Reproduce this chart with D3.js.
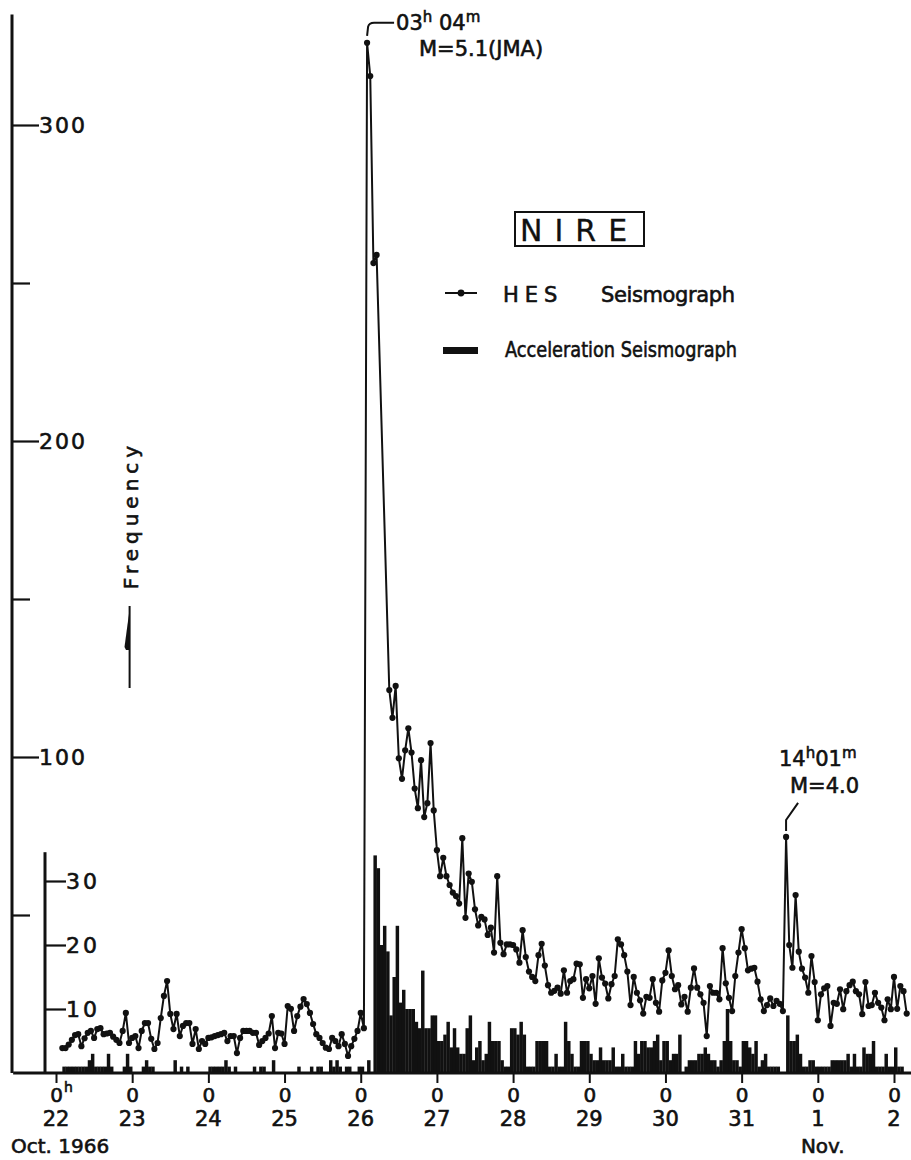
<!DOCTYPE html>
<html>
<head>
<meta charset="utf-8">
<script src="https://cdn.jsdelivr.net/npm/d3@7/dist/d3.min.js"></script>
<style>
  html, body { margin: 0; padding: 0; background: #fff; }
  svg { display: block; }
  text { fill: #111; stroke: #111; stroke-width: 0.6px; font-family: "DejaVu Sans", sans-serif; }
</style>
</head>
<body>
<div id="chart"></div>
<script>
// tick labels under the time axis (one tick per day, 0h)
const dayLabels = ["22", "23", "24", "25", "26", "27", "28", "29", "30", "31", "1", "2"];

// HES seismograph, hourly frequency (null = no point plotted)
const hes22 = [null, null, 7.9, 7.9, 9, 10.5, 12, 12.3, 8.5, 11, 12.7, 13.3, 11.1, 13.9, 14.2, 12.3, 12.5, 12.7, 11.5, 10.5, 9.5, 13.3, 19, 9.5];
const hes23 = [11.1, 11.7, 7.9, 13.3, 15.8, 15.8, 10.8, 7.6, 9.5, 17.4, 24.4, 29.1, 18.7, 13.9, 18.7, 11.7, 14.9, 15.8, 15.8, 9.2, 13.9, 7.6, 10.1, 9.2];
const hes24 = [11.1, 11.3, 11.7, 12, 12.3, 12.7, 10.1, 11.7, 11.7, 6.3, 11.1, 13.3, 13.3, 13.3, 12.7, 12.7, 8.9, 10.1, 11.1, 12.5, 18, 7.9, 12.7, 12.5];
const hes25 = [9.2, 21.2, 20.3, 13.3, 18, 21, 23.4, 21.8, 19, 15.5, 12.3, 11.1, 9.5, 8, 7.6, 11.1, 10.1, 8.5, 12.3, 9.2, 5.4, 8.5, 10.8, 13.3];
const hes26 = [19, 14.2, 326, 315.5, 256.3, 258.9, null, null, null, 121.2, 112.4, 122.5, 99.6, 93.1, 102.1, 109.1, 101.4, 90, 83.8, 99, 81, 85.4, 104.4, 83.1];
const hes27 = [70.5, 62.3, 68.1, 62.3, 59.5, 57.1, 56, 53.6, 74.3, 49.1, 63.1, 60.5, 51.8, 46.7, 49.4, 48.6, 43.7, 46, 38.1, 62.3, 41.2, 37.6, 40.7, 40.7];
const hes28 = [40.5, 39.1, 34.9, 45.2, 36.7, 32.1, 30.4, 29.1, 37.3, 40.9, 34, 27.8, 25.4, 26, 27, 25.1, 32.5, 25.4, 29.1, 29.7, 34.6, 34.4, 23.8, 29.7];
const hes29 = [26.8, 30.7, 21.9, 36.3, 30.2, 28.3, 23.6, 28.1, 30.7, 42.3, 40.7, 37.3, 32.1, 21.5, 30.4, 25.4, 23, 18.8, 24.1, 23.8, 29.7, 22.2, 19.4, 29.3];
const hes30 = [31.7, 38.8, 30.7, 26.5, 27.8, 21.7, 24.1, 19.4, 27, 33.1, 27, 24.9, 22.2, 11.7, 27.5, 25.4, 25.4, 23.3, 39.5, 28.4, 23.8, 19.6, 30.7, 38.1];
const hes31 = [45.5, 39.5, 32.5, 33, 33.3, 28.9, 23.3, 19.6, 21.5, 23.6, 21.2, 22.8, 21.9, 19.6, 74.7, 40.5, 33.3, 56.3, 38.4, 33, 30.2, 25.4, 37, 28.8];
const hes01 = [16.7, 24.9, 26.8, 27.5, 14.9, 22.2, 21.9, 26.5, 20.2, 25.9, 27.8, 28.9, 25.9, 24.9, 18.6, 28.8, 21.2, 21.5, 25.4, 22.2, 20.7, 16.7, 23.3, 20.2];
const hes02 = [30.4, 20.3, 27.5, 25.9, 18.8];

// acceleration seismograph, hourly frequency
const acc22 = [0, 0, 1, 1, 1, 1, 1, 1, 1, 1, 2, 3, 1, 1, 1, 1, 3, 1, 0, 0, 0, 1, 3, 1];
const acc23 = [0, 0, 0, 1, 2, 1, 1, 0, 0, 0, 0, 0, 0, 2, 0, 1, 0, 1, 0, 0, 0, 0, 0, 0];
const acc24 = [1, 1, 1, 1, 1, 2, 1, 0, 1, 0, 0, 0, 0, 0, 1, 0, 1, 1, 0, 0, 2, 0, 0, 0];
const acc25 = [0, 0, 0, 0, 1, 0, 0, 0, 1, 0, 1, 1, 0, 0, 2, 1, 2, 1, 0, 1, 1, 0, 0, 1];
const acc26 = [1, 0, 2, 0, 34, 32, 20, 23, 19, 9, 15, 23, 11, 13, 10, 10, 10, 8, 7, 16, 7, 7, 9, 9];
const acc27 = [5, 5, 6, 8, 4, 7, 4, 3, 3, 7, 9, 2, 4, 5, 2, 3, 8, 5, 5, 5, 2, 1, 1, 7];
const acc28 = [7, 6, 8, 6, 1, 1, 1, 5, 5, 5, 5, 1, 1, 3, 1, 1, 8, 5, 3, 1, 1, 5, 5, 5];
const acc29 = [3, 2, 2, 4, 2, 2, 2, 4, 1, 1, 3, 1, 1, 1, 5, 3, 5, 5, 4, 4, 5, 6, 2, 5];
const acc30 = [5, 2, 3, 3, 6, 0, 1, 2, 2, 2, 3, 3, 4, 3, 2, 2, 1, 2, 5, 10, 5, 2, 2, 1];
const acc31 = [5, 5, 4, 3, 5, 1, 2, 3, 1, 1, 1, 1, 0, 0, 9, 5, 5, 6, 3, 1, 1, 2, 2, 1];
const acc01 = [1, 1, 1, 1, 2, 2, 2, 2, 2, 3, 1, 3, 1, 1, 4, 3, 3, 5, 1, 1, 1, 3, 1, 1];
const acc02 = [4, 1, 1, 0, 0];

const mainTicks = [100, 200, 300];
const mainMinorTicks = [50, 150, 250];
const accTicks = [10, 20, 30];

const width = 911;
const height = 1160;
const ink = "#111";

const hes = [hes22, hes23, hes24, hes25, hes26, hes27, hes28, hes29, hes30, hes31, hes01, hes02]
    .flat()
    .map((v, i) => ({ h: i, v: v }))
    .filter(d => d.v !== null);
const acc = [acc22, acc23, acc24, acc25, acc26, acc27, acc28, acc29, acc30, acc31, acc01, acc02]
    .flat()
    .map((v, i) => ({ h: i, v: v }));

// hours from Oct.22 0h
const x = d3.scaleLinear().domain([0, 264]).range([56, 894]);
const yMain = d3.scaleLinear().domain([0, 300]).range([1073, 125]);
const yAcc = d3.scaleLinear().domain([0, 30]).range([1073, 881]);

const svg = d3.select("#chart")
    .append("svg")
    .attr("width", width)
    .attr("height", height)
    .attr("viewBox", `0 0 ${width} ${height}`);

// acceleration bars
const hourW = x(1) - x(0);
svg.append("g")
    .selectAll("rect")
    .data(acc.filter(d => d.v > 0))
    .enter()
    .append("rect")
    .attr("x", d => x(d.h))
    .attr("width", hourW + 0.3)
    .attr("y", d => yAcc(d.v))
    .attr("height", d => yAcc(0) - yAcc(d.v))
    .attr("fill", ink);

// HES line + dots
const line = d3.line().x(d => x(d.h)).y(d => yMain(d.v));
svg.append("path")
    .datum(hes)
    .attr("d", line)
    .attr("fill", "none")
    .attr("stroke", ink)
    .attr("stroke-width", 2)
    .attr("stroke-linejoin", "round");

svg.append("g")
    .selectAll("circle")
    .data(hes)
    .enter()
    .append("circle")
    .attr("cx", d => x(d.h))
    .attr("cy", d => yMain(d.v))
    .attr("r", 3.1)
    .attr("fill", ink);

// main frequency axis
const gMain = svg.append("g").attr("transform", "translate(12,0)");
gMain.append("line")
    .attr("x1", 0).attr("x2", 0)
    .attr("y1", yMain(0)).attr("y2", yMain(335))
    .attr("stroke", ink).attr("stroke-width", 3);
gMain.append("g")
    .call(d3.axisRight(yMain).tickValues(mainTicks).tickSize(27).tickSizeOuter(0).tickPadding(0).tickFormat(d3.format("d")))
    .call(g => g.select(".domain").remove());
gMain.append("g")
    .call(d3.axisRight(yMain).tickValues(mainMinorTicks).tickSize(18).tickSizeOuter(0).tickFormat(""))
    .call(g => g.select(".domain").remove());
gMain.selectAll(".tick line").attr("stroke", ink).attr("stroke-width", 2.2);
gMain.selectAll(".tick text")
    .attr("fill", ink)
    .style("font-family", "DejaVu Sans")
    .style("font-size", "22px")
    .style("letter-spacing", "2px");

// acceleration axis
const gAcc = svg.append("g").attr("transform", "translate(45,0)");
gAcc.append("line")
    .attr("x1", 0).attr("x2", 0)
    .attr("y1", yAcc(0)).attr("y2", yAcc(34.5))
    .attr("stroke", ink).attr("stroke-width", 3);
gAcc.append("g")
    .call(d3.axisRight(yAcc).tickValues(accTicks).tickSize(21).tickSizeOuter(0).tickPadding(0).tickFormat(d3.format("d")))
    .call(g => g.select(".domain").remove());
gAcc.selectAll(".tick line").attr("stroke", ink).attr("stroke-width", 2.2);
gAcc.selectAll(".tick text")
    .attr("fill", ink)
    .style("font-family", "DejaVu Sans")
    .style("font-size", "22px")
    .style("letter-spacing", "3px");

// time axis
const gX = svg.append("g").attr("transform", `translate(0,${yMain(0)})`);
gX.append("line")
    .attr("x1", x(-13.5)).attr("x2", x(269.5))
    .attr("stroke", ink).attr("stroke-width", 3);
gX.append("g")
    .call(d3.axisBottom(x).tickValues(d3.range(0, 265, 24)).tickSize(10).tickSizeOuter(0).tickPadding(5).tickFormat(() => "0"))
    .call(g => g.select(".domain").remove());
gX.selectAll(".tick line").attr("stroke", ink).attr("stroke-width", 2);
gX.selectAll(".tick text")
    .attr("fill", ink)
    .style("font-family", "DejaVu Sans")
    .style("font-size", "20px");
gX.append("text")
    .attr("x", x(0) + 8).attr("y", 19)
    .style("font-size", "14px")
    .text("h");

gX.selectAll(".day")
    .data(dayLabels)
    .enter()
    .append("text")
    .attr("class", "day")
    .attr("x", (d, i) => x(i * 24))
    .attr("y", 53)
    .attr("text-anchor", "middle")
    .style("font-size", "21px")
    .text(d => d);

svg.append("text")
    .attr("x", 11).attr("y", 1153)
    .style("font-size", "20px")
    .text("Oct. 1966");
svg.append("text")
    .attr("x", x(240) + 5).attr("y", 1153)
    .attr("text-anchor", "middle")
    .style("font-size", "20px")
    .text("Nov.");

// Frequency label with arrow
svg.append("text")
    .attr("transform", "translate(138,515) rotate(-90)")
    .attr("text-anchor", "middle")
    .style("font-size", "20px")
    .style("letter-spacing", "5px")
    .text("Frequency");
svg.append("path")
    .attr("d", "M130,606 L124.5,647 L126,650 L130,650 Z")
    .attr("fill", ink);
svg.append("line")
    .attr("x1", 129.6).attr("x2", 129.6)
    .attr("y1", 606).attr("y2", 688)
    .attr("stroke", ink).attr("stroke-width", 2);

// annotations for the two shocks
function supLabel(tx, ty, parts) {
    const t = svg.append("text").attr("x", tx).attr("y", ty).style("font-size", "21px");
    parts.forEach(p => {
        t.append("tspan")
            .attr("dy", p.sup ? -8 : (p.back ? 8 : 0))
            .style("font-size", p.sup ? "15px" : "21px")
            .text(p.t);
    });
    return t;
}

const peak = hes.reduce((a, b) => (b.v > a.v ? b : a));
const px = x(peak.h), py = yMain(peak.v);
svg.append("path")
    .attr("d", `M${px},${py - 7} L${px + 1},${py - 16} Q${px + 2},${py - 20} ${px + 7},${py - 20} L${px + 27},${py - 20}`)
    .attr("fill", "none").attr("stroke", ink).attr("stroke-width", 2);
supLabel(px + 29, 30, [{ t: "03" }, { t: "h", sup: true }, { t: " 04", back: true }, { t: "m", sup: true }]);
svg.append("text").attr("x", 419).attr("y", 56).style("font-size", "21px").text("M=5.1(JMA)");

const second = hes.filter(d => d.h > 200).reduce((a, b) => (b.v > a.v ? b : a));
const sx = x(second.h), sy = yMain(second.v);
svg.append("path")
    .attr("d", `M${sx},${sy - 6} L${sx},${sy - 17} L${sx + 12},${sy - 34}`)
    .attr("fill", "none").attr("stroke", ink).attr("stroke-width", 2);
supLabel(779, 766, [{ t: "14" }, { t: "h", sup: true }, { t: "01", back: true }, { t: "m", sup: true }]);
svg.append("text").attr("x", 790).attr("y", 793).style("font-size", "21px").text("M=4.0");

// legend
svg.append("rect")
    .attr("x", 515).attr("y", 212).attr("width", 129).attr("height", 34)
    .attr("fill", "none").attr("stroke", ink).attr("stroke-width", 2);
svg.append("text")
    .attr("x", 520).attr("y", 241)
    .style("font-size", "30px")
    .style("letter-spacing", "12px")
    .style("stroke-width", "0.3px")
    .text("NIRE");

svg.append("line")
    .attr("x1", 445).attr("x2", 477).attr("y1", 293).attr("y2", 293)
    .attr("stroke", ink).attr("stroke-width", 2);
svg.append("circle").attr("cx", 461).attr("cy", 293).attr("r", 3.4).attr("fill", ink);
svg.append("text")
    .attr("x", 503).attr("y", 302)
    .style("font-size", "21px").style("letter-spacing", "6px")
    .text("HES");
svg.append("text")
    .attr("x", 601).attr("y", 302)
    .attr("textLength", 134)
    .style("font-size", "21px")
    .text("Seismograph");

svg.append("rect")
    .attr("x", 443).attr("y", 347).attr("width", 35).attr("height", 7)
    .attr("fill", ink);
svg.append("text")
    .attr("x", 505).attr("y", 357)
    .attr("textLength", 232)
    .attr("lengthAdjust", "spacingAndGlyphs")
    .style("font-size", "21px")
    .text("Acceleration Seismograph");
</script>
</body>
</html>
